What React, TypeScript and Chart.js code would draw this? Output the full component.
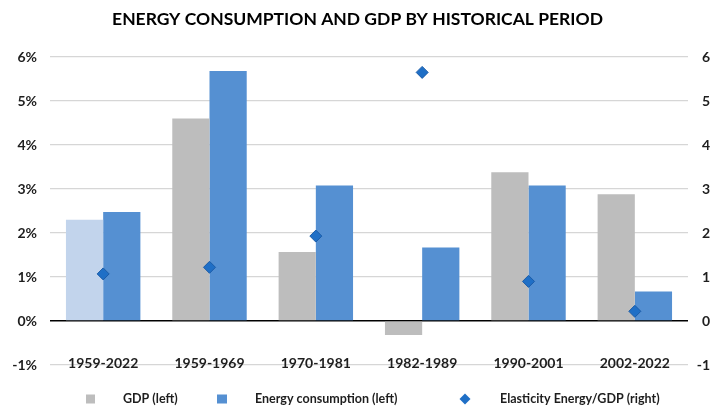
import React, { useEffect, useRef } from 'react';
import { Chart, registerables } from 'chart.js';

Chart.register(...registerables);

const FONT = 'Lato, "Open Sans", sans-serif';

const title = 'ENERGY CONSUMPTION AND GDP BY HISTORICAL PERIOD';
const categories = ['1959-2022', '1959-1969', '1970-1981', '1982-1989', '1990-2001', '2002-2022'];
const gdp = [2.3, 4.6, 1.57, -0.32, 3.38, 2.88];
const energy = [2.48, 5.68, 3.08, 1.67, 3.08, 0.67];
const elasticity = [1.07, 1.22, 1.93, 5.65, 0.9, 0.22];
const legendLabels = ['GDP (left)', 'Energy consumption (left)', 'Elasticity Energy/GDP (right)'];
const axisMin = -1;
const axisMax = 6;

const GRAY = '#BDBDBD';
const LIGHT_BLUE = '#C2D4EC';
const BLUE = '#5590D2';
const DIAMOND = '#1F6FC6';
const DIAMOND_BORDER = '#1B5CA8';
const TEXT = '#1E1E1E';

const gdpColors = gdp.map((_, i) => (i === 0 ? LIGHT_BLUE : GRAY));

const overlay = {
  id: 'overlay',
  afterDraw(chart: any) {
    const ctx = chart.ctx as CanvasRenderingContext2D;
    const xs = chart.scales.x;
    const ys = chart.scales.y;
    ctx.save();
    // title
    ctx.fillStyle = '#000';
    ctx.font = `bold 17.5px ${FONT}`;
    ctx.textAlign = 'center';
    ctx.textBaseline = 'middle';
    ctx.fillText(title, chart.width / 2, 19);
    // category labels
    ctx.fillStyle = TEXT;
    ctx.font = `bold 14px ${FONT}`;
    ctx.textBaseline = 'alphabetic';
    categories.forEach((c, i) => {
      ctx.fillText(c, xs.getPixelForValue(i), ys.getPixelForValue(axisMin) + 3);
    });
    // legend
    const ly = 399;
    ctx.font = `bold 12.5px ${FONT}`;
    ctx.textAlign = 'left';
    ctx.textBaseline = 'middle';
    // GDP
    ctx.fillStyle = GRAY;
    ctx.fillRect(86, ly - 4.5, 9, 9);
    ctx.fillStyle = TEXT;
    ctx.fillText(legendLabels[0], 123, ly);
    // Energy
    ctx.fillStyle = BLUE;
    ctx.fillRect(217, ly - 4.5, 10, 9);
    ctx.fillStyle = TEXT;
    ctx.fillText(legendLabels[1], 255, ly);
    // Elasticity
    ctx.fillStyle = DIAMOND;
    ctx.beginPath();
    ctx.moveTo(465, ly - 5.5);
    ctx.lineTo(470.5, ly);
    ctx.lineTo(465, ly + 5.5);
    ctx.lineTo(459.5, ly);
    ctx.closePath();
    ctx.fill();
    ctx.fillStyle = TEXT;
    ctx.fillText(legendLabels[2], 500, ly);
    ctx.restore();
  },
};

export default function App() {
  const ref = useRef<HTMLCanvasElement>(null);
  useEffect(() => {
    if (!ref.current) return;
    const chart = new Chart(ref.current, {
      type: 'bar',
      data: {
        labels: categories,
        datasets: [
          {
            type: 'line',
            label: legendLabels[2],
            data: elasticity,
            yAxisID: 'y1',
            showLine: false,
            pointStyle: 'rectRot',
            pointRadius: 6,
            pointBackgroundColor: DIAMOND,
            pointBorderColor: DIAMOND_BORDER,
            pointBorderWidth: 1,
            order: 0,
          } as any,
          {
            label: legendLabels[0],
            data: gdp,
            backgroundColor: gdpColors,
            yAxisID: 'y',
            categoryPercentage: 0.7,
            barPercentage: 1.0,
            order: 1,
          },
          {
            label: legendLabels[1],
            data: energy,
            backgroundColor: BLUE,
            yAxisID: 'y',
            categoryPercentage: 0.7,
            barPercentage: 1.0,
            order: 1,
          },
        ],
      },
      options: {
        responsive: false,
        animation: false,
        devicePixelRatio: 1,
        layout: { padding: { top: 57, bottom: 43, left: 0, right: 5 } },
        plugins: {
          legend: { display: false },
          title: { display: false },
          tooltip: { enabled: false },
        },
        scales: {
          x: {
            display: false,
            offset: true,
            grid: { display: false },
          },
          y: {
            position: 'left',
            min: axisMin,
            max: axisMax,
            afterFit: (s: any) => {
              s.width = 50;
            },
            border: { display: false },
            grid: {
              drawTicks: false,
              color: (c: any) => (c.tick && c.tick.value === 0 ? '#000' : '#D6D6D6'),
              lineWidth: (c: any) => (c.tick && c.tick.value === 0 ? 1.5 : 1.3),
            },
            ticks: {
              stepSize: 1,
              padding: 13,
              color: TEXT,
              font: { family: FONT, size: 14, weight: 'bold' },
              callback: (v: any) => `${v}%`,
            },
          },
          y1: {
            position: 'right',
            min: axisMin,
            max: axisMax,
            afterFit: (s: any) => {
              s.width = 22;
            },
            border: { display: false },
            grid: { display: false, drawTicks: false },
            ticks: {
              stepSize: 1,
              padding: 0,
              crossAlign: 'far',
              color: TEXT,
              font: { family: FONT, size: 14, weight: 'bold' },
            },
          },
        },
      } as any,
      plugins: [overlay],
    });
    return () => chart.destroy();
  }, []);
  return (
    <div style={{ position: 'fixed', left: 0, top: 0, width: 715, height: 408, background: '#fff' }}>
      <canvas ref={ref} width={715} height={408} style={{ display: 'block' }} />
    </div>
  );
}
